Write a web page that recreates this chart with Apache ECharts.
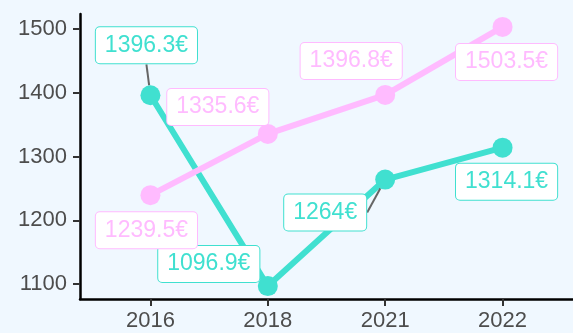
<!DOCTYPE html>
<html>
<head>
<meta charset="utf-8">
<script src="https://cdn.jsdelivr.net/npm/echarts@6/dist/echarts.min.js"></script>
<style>
  html, body { margin: 0; padding: 0; background: #F0F8FF; }
  #chart { width: 573px; height: 333px; }
</style>
</head>
<body>
<div id="chart"></div>
<script>
// Years on the horizontal axis
const years = ['2016', '2018', '2021', '2022'];
// Two price series (EUR)
const seriesTurquoise = [1396.3, 1096.9, 1264, 1314.1];
const seriesPink = [1239.5, 1335.6, 1396.8, 1503.5];
// Vertical tick values
const yTicks = [1100, 1200, 1300, 1400, 1500];

// Label displacement (px) from each point, per series
const turquoiseShift = [[-4, -50], [-59, -22], [-60, 33], [4, 34]];
const pinkShift = [[-4, 35], [-50, -27], [-34, -34], [4, 35]];
// Which labels get a leader segment
const turquoiseLeader = [true, false, true, false];
const pinkLeader = [false, false, false, false];

const TURQ = '#40E0D0';
const PINK = '#FFBBFF';

function fmt(v) { return v + '€'; }

function makeData(values, leaders) {
  return values.map((v, i) => ({
    value: [i, v],
    labelLine: { show: leaders[i] }
  }));
}

function makeSeries(name, values, color, leaders) {
  return {
    name: name,
    type: 'line',
    data: makeData(values, leaders),
    symbol: 'circle',
    symbolSize: 20,
    lineStyle: { color: color, width: 6 },
    itemStyle: { color: color },
    label: {
      show: true,
      position: 'inside',
      formatter: p => fmt(p.value[1]),
      color: color,
      fontFamily: 'Liberation Sans',
      fontSize: 23,
      lineHeight: 24,
      backgroundColor: '#FFFFFF',
      borderColor: color,
      borderWidth: 1,
      borderRadius: 4,
      padding: [6, 9, 6, 9]
    },
    labelLine: {
      show: false,
      lineStyle: { color: '#666666', width: 2 }
    },
    z: 2
  };
}

const chart = echarts.init(document.getElementById('chart'), null, { renderer: 'canvas' });

const option = {
  backgroundColor: '#F0F8FF',
  animation: false,
  grid: { left: 80, top: 14, width: 493.5, bottom: 34, containLabel: false },
  xAxis: {
    type: 'value',
    min: -0.6,
    max: 3.6,
    interval: 1,
    splitLine: { show: false },
    axisLine: { show: true, onZero: false, lineStyle: { color: '#000000', width: 2.5 } },
    axisTick: { show: true, length: 7, lineStyle: { color: '#333333', width: 2 },
      customValues: [0, 1, 2, 3] },
    axisLabel: {
      customValues: [0, 1, 2, 3],
      formatter: v => years[Math.round(v)],
      color: '#4D4D4D', fontFamily: 'Liberation Sans', fontSize: 22, margin: 11
    }
  },
  yAxis: {
    type: 'value',
    min: 1076.6,
    max: 1523.8,
    splitLine: { show: false },
    axisLine: { show: true, onZero: false, lineStyle: { color: '#000000', width: 2.5 } },
    axisTick: { show: true, length: 7, lineStyle: { color: '#333333', width: 2 },
      customValues: yTicks },
    axisLabel: {
      customValues: yTicks,
      formatter: v => String(v),
      color: '#4D4D4D', fontFamily: 'Liberation Sans', fontSize: 22, margin: 13
    }
  },
  series: [
    makeSeries('turquoise', seriesTurquoise, TURQ, turquoiseLeader),
    makeSeries('pink', seriesPink, PINK, pinkLeader)
  ],
  labelLayout: function (params) {
    const shifts = params.seriesIndex === 0 ? turquoiseShift : pinkShift;
    const s = shifts[params.dataIndex];
    return { dx: s[0], dy: s[1] };
  }
};

chart.setOption(option);
</script>
</body>
</html>
